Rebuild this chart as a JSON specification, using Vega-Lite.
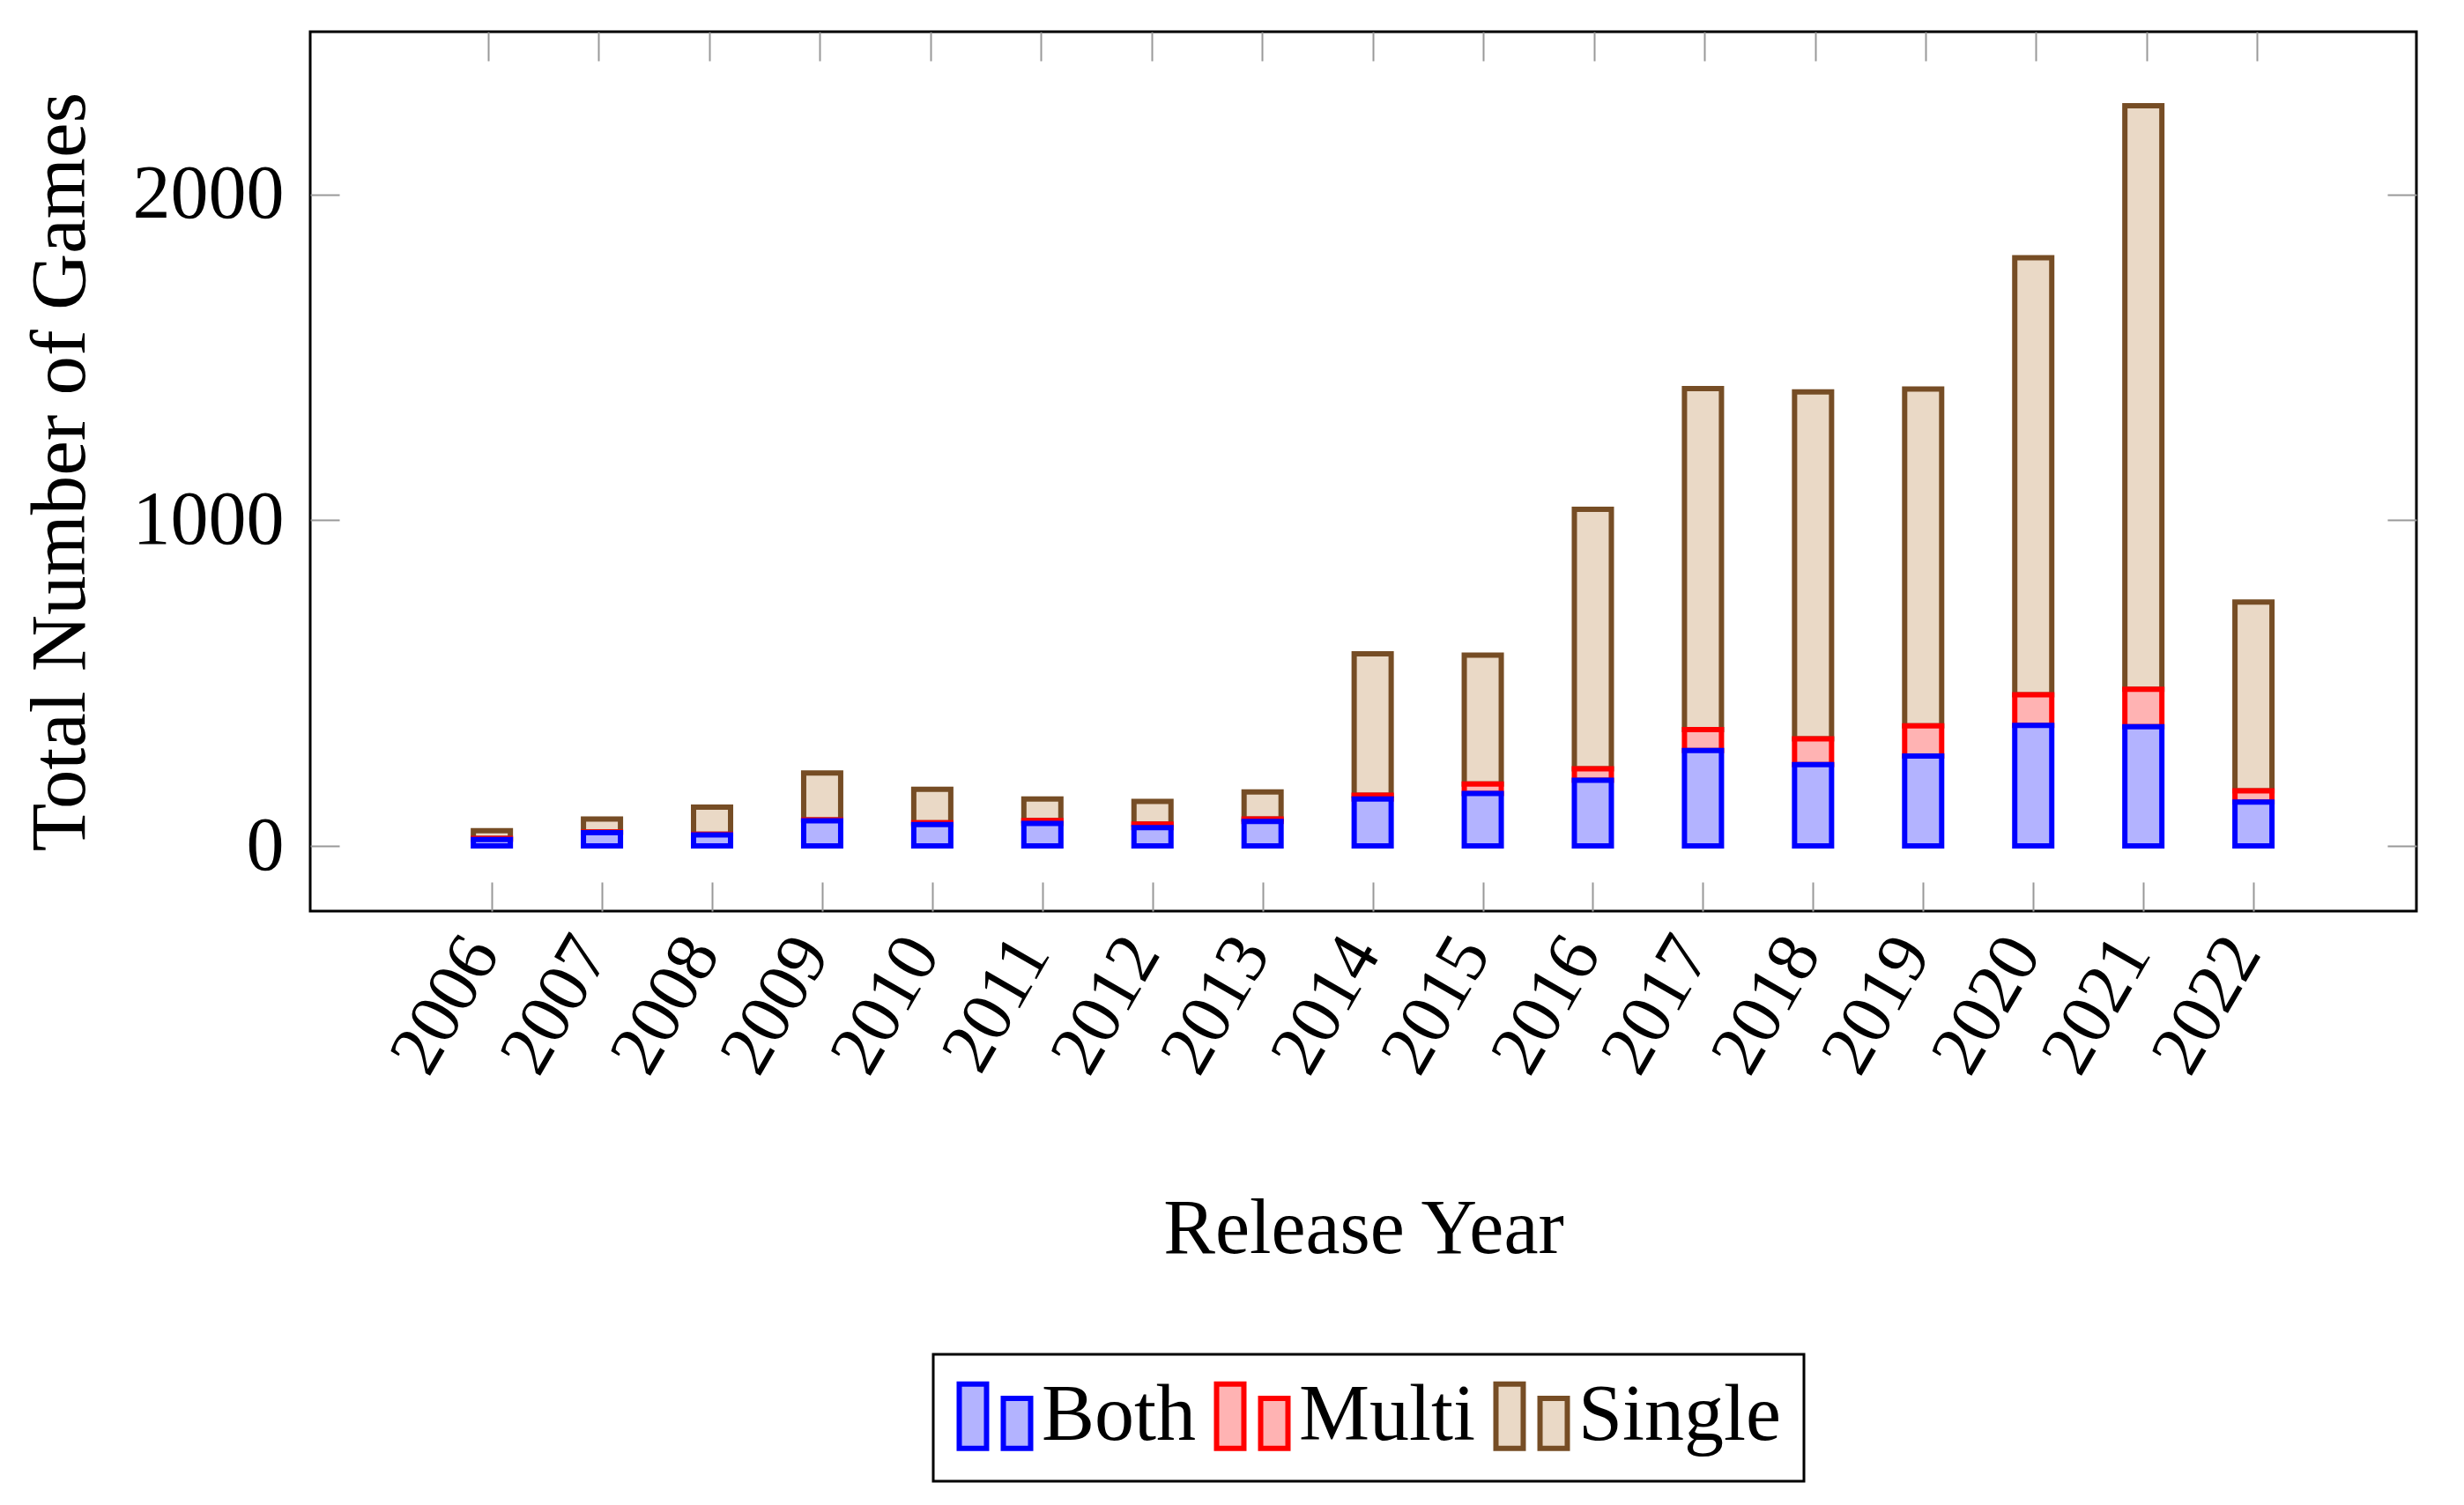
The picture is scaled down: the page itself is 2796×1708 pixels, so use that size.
{
  "$schema": "https://vega.github.io/schema/vega-lite/v6.json",
  "width": 2390,
  "height": 998,
  "autosize": "none",
  "padding": {"left": 352, "top": 36, "right": 54, "bottom": 674},
  "background": "white",
  "config": {
    "view": {"stroke": "black", "strokeWidth": 3},
    "font": "Liberation Serif",
    "legend": {"strokeWidth": 3},
    "axis": {
      "labelFont": "Liberation Serif",
      "titleFont": "Liberation Serif",
      "titleFontWeight": "normal",
      "labelColor": "black",
      "titleColor": "black",
      "grid": false,
      "domain": false,
      "tickColor": "#999999",
      "tickWidth": 2,
      "labelFontSize": 86,
      "titleFontSize": 89
    }
  },
  "data": {
    "values": [
      {"year": 2006, "type": "Single", "rank": 3, "count": 24},
      {"year": 2007, "type": "Single", "rank": 3, "count": 40},
      {"year": 2008, "type": "Single", "rank": 3, "count": 83},
      {"year": 2009, "type": "Single", "rank": 3, "count": 144},
      {"year": 2010, "type": "Single", "rank": 3, "count": 103},
      {"year": 2011, "type": "Single", "rank": 3, "count": 66},
      {"year": 2012, "type": "Single", "rank": 3, "count": 70},
      {"year": 2013, "type": "Single", "rank": 3, "count": 83},
      {"year": 2014, "type": "Single", "rank": 3, "count": 434},
      {"year": 2015, "type": "Single", "rank": 3, "count": 396},
      {"year": 2016, "type": "Single", "rank": 3, "count": 797},
      {"year": 2017, "type": "Single", "rank": 3, "count": 1047},
      {"year": 2018, "type": "Single", "rank": 3, "count": 1065},
      {"year": 2019, "type": "Single", "rank": 3, "count": 1034},
      {"year": 2020, "type": "Single", "rank": 3, "count": 1342},
      {"year": 2021, "type": "Single", "rank": 3, "count": 1792},
      {"year": 2022, "type": "Single", "rank": 3, "count": 580},
      {"year": 2006, "type": "Multi", "rank": 2, "count": 3},
      {"year": 2007, "type": "Multi", "rank": 2, "count": 2},
      {"year": 2008, "type": "Multi", "rank": 2, "count": 2},
      {"year": 2009, "type": "Multi", "rank": 2, "count": 3},
      {"year": 2010, "type": "Multi", "rank": 2, "count": 5},
      {"year": 2011, "type": "Multi", "rank": 2, "count": 9},
      {"year": 2012, "type": "Multi", "rank": 2, "count": 11},
      {"year": 2013, "type": "Multi", "rank": 2, "count": 8},
      {"year": 2014, "type": "Multi", "rank": 2, "count": 12},
      {"year": 2015, "type": "Multi", "rank": 2, "count": 29},
      {"year": 2016, "type": "Multi", "rank": 2, "count": 35},
      {"year": 2017, "type": "Multi", "rank": 2, "count": 64},
      {"year": 2018, "type": "Multi", "rank": 2, "count": 79},
      {"year": 2019, "type": "Multi", "rank": 2, "count": 93},
      {"year": 2020, "type": "Multi", "rank": 2, "count": 94},
      {"year": 2021, "type": "Multi", "rank": 2, "count": 115},
      {"year": 2022, "type": "Multi", "rank": 2, "count": 34},
      {"year": 2006, "type": "Both", "rank": 1, "count": 20},
      {"year": 2007, "type": "Both", "rank": 1, "count": 41},
      {"year": 2008, "type": "Both", "rank": 1, "count": 34},
      {"year": 2009, "type": "Both", "rank": 1, "count": 77},
      {"year": 2010, "type": "Both", "rank": 1, "count": 66},
      {"year": 2011, "type": "Both", "rank": 1, "count": 69},
      {"year": 2012, "type": "Both", "rank": 1, "count": 56},
      {"year": 2013, "type": "Both", "rank": 1, "count": 75},
      {"year": 2014, "type": "Both", "rank": 1, "count": 144},
      {"year": 2015, "type": "Both", "rank": 1, "count": 161},
      {"year": 2016, "type": "Both", "rank": 1, "count": 202},
      {"year": 2017, "type": "Both", "rank": 1, "count": 293},
      {"year": 2018, "type": "Both", "rank": 1, "count": 250},
      {"year": 2019, "type": "Both", "rank": 1, "count": 276},
      {"year": 2020, "type": "Both", "rank": 1, "count": 370},
      {"year": 2021, "type": "Both", "rank": 1, "count": 366},
      {"year": 2022, "type": "Both", "rank": 1, "count": 135}
    ]
  },
  "layer": [
    {
      "mark": {"type": "bar", "width": 42, "strokeWidth": 6, "fillOpacity": 1},
      "encoding": {
        "x": {
          "field": "year",
          "type": "quantitative",
          "scale": {"domain": [2004.39, 2023.44], "nice": false, "zero": false},
          "axis": {
            "orient": "bottom",
            "title": "Release Year",
            "titleFontSize": 88,
            "values": [2006, 2007, 2008, 2009, 2010, 2011, 2012, 2013, 2014, 2015, 2016, 2017, 2018, 2019, 2020, 2021, 2022],
            "format": "d",
            "labelAngle": -60,
            "labelAlign": "right",
            "labelBaseline": "middle",
            "labelFontSize": 82,
            "tickSize": -33,
            "labelPadding": 68,
            "labelOffset": -12,
            "titlePadding": 120,
            "labelOverlap": false,
            "labelFlush": false
          }
        },
        "y": {
          "field": "count",
          "type": "quantitative",
          "stack": "zero",
          "scale": {"domain": [-200, 2500], "nice": false, "zero": false},
          "axis": {
            "orient": "left",
            "title": "Total Number of Games",
            "values": [0, 1000, 2000],
            "format": "d",
            "tickSize": -33,
            "labelPadding": 63,
            "titlePadding": 38
          }
        },
        "order": {"field": "rank", "type": "quantitative"},
        "fill": {
          "field": "type",
          "type": "nominal",
          "scale": {"domain": ["Both", "Multi", "Single"], "range": ["#B3B3FF", "#FFB3B3", "#EAD9C6"]},
          "legend": {
            "orient": "none",
            "legendX": 707,
            "legendY": 1501,
            "direction": "horizontal",
            "title": null,
            "symbolType": "M-1,-0.9H-0.235V0.9H-1Z M0.235,-0.5H1V0.9H0.235Z",
            "symbolSize": 6561,
            "symbolStrokeWidth": 6,
            "symbolOpacity": 1,
            "labelFont": "Liberation Serif",
            "labelFontSize": 90,
            "labelColor": "black",
            "labelLimit": 600,
            "labelOffset": 8,
            "columnPadding": 10,
            "padding": 25,
            "strokeColor": "black",
            "fillColor": "white"
          }
        },
        "stroke": {
          "field": "type",
          "type": "nominal",
          "scale": {"domain": ["Both", "Multi", "Single"], "range": ["#0000FF", "#FF0000", "#764D25"]}
        }
      }
    },
    {
      "mark": {"type": "point", "opacity": 0},
      "encoding": {
        "x": {
          "field": "year",
          "type": "quantitative",
          "scale": {"domain": [2004.39, 2023.44], "nice": false, "zero": false},
          "axis": {
            "orient": "top",
            "title": null,
            "labels": false,
            "values": [2006, 2007, 2008, 2009, 2010, 2011, 2012, 2013, 2014, 2015, 2016, 2017, 2018, 2019, 2020, 2021, 2022],
            "tickSize": -33
          }
        },
        "y": {
          "field": "count",
          "type": "quantitative",
          "scale": {"domain": [-200, 2500], "nice": false, "zero": false},
          "axis": {
            "orient": "right",
            "title": null,
            "labels": false,
            "values": [0, 1000, 2000],
            "tickSize": -33
          }
        }
      }
    }
  ],
  "resolve": {
    "scale": {"x": "independent", "y": "independent"},
    "axis": {"x": "independent", "y": "independent"}
  }
}
